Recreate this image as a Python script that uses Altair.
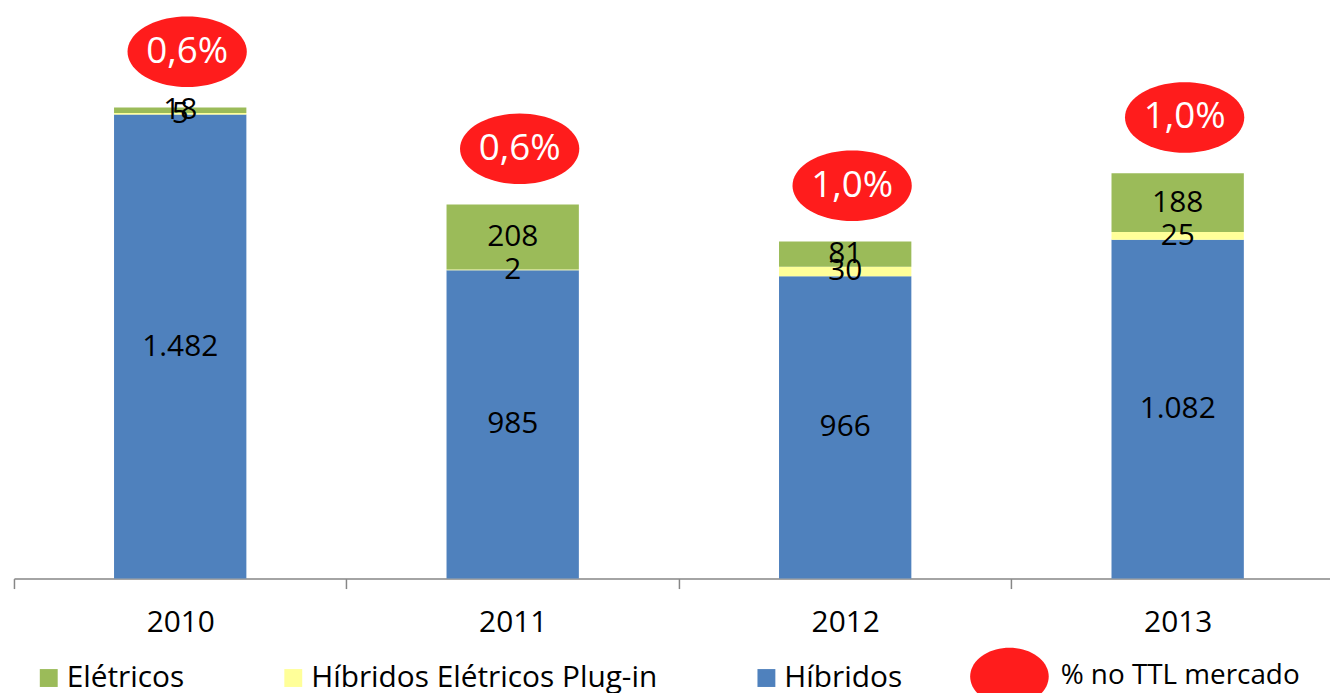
import altair as alt
import pandas as pd
import numpy as np

# ---- data ----
years = ["2010", "2011", "2012", "2013"]
hibridos = [1482, 985, 966, 1082]
plugin = [5, 2, 30, 25]
eletricos = [18, 208, 81, 188]
share_pct = [0.6, 0.6, 1.0, 1.0]

series_names = ["Elétricos", "Híbridos Elétricos Plug-in", "Híbridos"]
series_colors = ["#9BBB59", "#FFFF99", "#4F81BD"]
share_name = "% no TTL mercado"
red = "#FF1C1C"
FONT = "Open Sans"


def fmt_num(v):
    return f"{v:,}".replace(",", ".")


# build stacked table (bottom -> top: Híbridos, Plug-in, Elétricos)
rows = []
for i, yr in enumerate(years):
    base = 0
    for name, vals in (("Híbridos", hibridos), ("Híbridos Elétricos Plug-in", plugin), ("Elétricos", eletricos)):
        v = vals[i]
        rows.append({"year": yr, "serie": name, "value": v, "y0": base, "y1": base + v,
                     "mid": base + v / 2, "label": fmt_num(v)})
        base += v
stack_df = pd.DataFrame(rows)

totals = [h + p + e for h, p, e in zip(hibridos, plugin, eletricos)]
share_df = pd.DataFrame({
    "year": years,
    "total": totals,
    "serie": [share_name] * len(years),
    "txt": [f"{v:.1f}".replace(".", ",") + "%" for v in share_pct],
})


def ellipse_path(ry, n=72):
    t = np.linspace(0, 2 * np.pi, n, endpoint=False)
    pts = [f"{np.cos(a):.4f},{ry * np.sin(a):.4f}" for a in t]
    return "M" + "L".join(pts) + "Z"


ELL_MARK = ellipse_path(35.5 / 60)
ELL_LEG = ellipse_path(29 / 39.5)

STEP = 1338 / 4
x_scale = alt.Scale(domain=years, range=[0, 1338], paddingInner=0.602, paddingOuter=0.301)
y_scale = alt.Scale(domain=[0, 1800], nice=False, zero=True)

x_enc = alt.X("year:N", scale=x_scale, sort=years,
              axis=alt.Axis(title=None, labelAngle=0, labelFont=FONT, labelFontSize=30,
                            labelColor="black", domainColor="#868686", tickColor="#868686",
                            domainWidth=1.5, tickWidth=1.5, tickSize=10, tickOffset=-STEP / 2,
                            labelOffset=STEP / 2, labelPadding=19, grid=False))
x_plain = alt.X("year:N", scale=x_scale, sort=years)

bars = alt.Chart(stack_df).mark_bar().encode(
    x=x_enc,
    y=alt.Y("y1:Q", scale=y_scale, axis=None),
    y2="y0:Q",
    color=alt.Color("serie:N", scale=alt.Scale(domain=series_names, range=series_colors),
                    legend=alt.Legend(orient="none", legendX=20, legendY=652, direction="horizontal",
                                      title=None, symbolType="square", symbolSize=324,
                                      symbolStrokeWidth=0, symbolOpacity=1, labelFont=FONT,
                                      labelFontSize=30, labelColor="black", labelLimit=600,
                                      labelOffset=3, columnPadding=94, padding=0)),
)

labels = alt.Chart(stack_df).mark_text(font=FONT, fontSize=30, color="black", baseline="middle").encode(
    x=x_plain,
    y=alt.Y("mid:Q", scale=y_scale),
    text="label:N",
)

ellipses = alt.Chart(share_df).mark_point(filled=True, size=14400, opacity=1, color=red,
                                          strokeWidth=0, shape=ELL_MARK,
                                          xOffset=7, yOffset=-56).encode(
    x=x_plain,
    y=alt.Y("total:Q", scale=y_scale),
)

# legend entry for the red ellipses (layer draws no marks itself)
share_legend = alt.Chart(share_df).transform_filter("datum.total < 0").mark_point(
    filled=True, size=6241, opacity=1, color=red, strokeWidth=0).encode(
    x=x_plain,
    y=alt.Y("total:Q", scale=y_scale),
    shape=alt.Shape("serie:N", scale=alt.Scale(domain=[share_name], range=[ELL_LEG]),
                    legend=alt.Legend(orient="none", legendX=962, legendY=626, title=None,
                                      symbolSize=6241, symbolFillColor=red, symbolOpacity=1,
                                      symbolStrokeWidth=0, labelFont=FONT, labelFontSize=28,
                                      labelColor="black", labelLimit=600, labelOffset=12,
                                      padding=0)),
)

share_txt = alt.Chart(share_df).mark_text(font=FONT, fontSize=37, color="white", baseline="middle",
                                          dx=7, dy=-56).encode(
    x=x_plain,
    y=alt.Y("total:Q", scale=y_scale),
    text="txt:N",
)

chart = alt.layer(bars, labels, ellipses, share_txt, share_legend).properties(
    width=1324, height=567,
    padding={"left": 6, "top": 5, "right": 0, "bottom": 113},
    autosize=alt.AutoSizeParams(type="none"),
).configure_view(stroke=None)

chart.save("out.html", embed_options={"renderer": "svg", "actions": False})
